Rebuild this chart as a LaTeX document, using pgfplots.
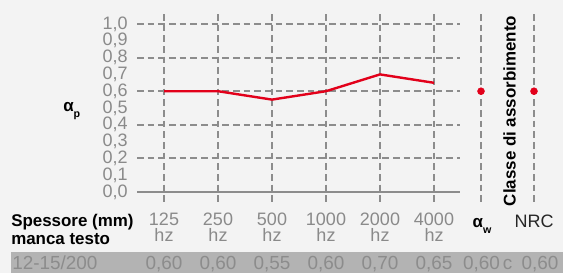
\documentclass[border=0pt]{standalone}
\usepackage{fontspec}
\setmainfont{Liberation Sans}
\usepackage{pgfplots}
\pgfplotsset{compat=1.18}
\definecolor{bg}{HTML}{F3F3F3}
\definecolor{gridc}{HTML}{8C8C8C}
\definecolor{red1}{HTML}{E2001A}
\definecolor{band}{HTML}{B3B3B3}
\definecolor{tlab}{HTML}{8A8A8A}
\definecolor{btext}{HTML}{8C8C8C}
\newcommand{\reg}{\fontsize{13.5}{12}\selectfont}
\newcommand{\bld}{\fontsize{12.7}{12}\selectfont\bfseries}
\newcommand{\bnd}{\fontsize{14.2}{14}\selectfont}
\begin{document}
\begin{tikzpicture}
\fill[bg] (-102.75pt,-60.75pt) rectangle (319.5pt,144pt);
\fill[band] (-94.5pt,-60.75pt) rectangle (319.5pt,-45pt);
\begin{axis}[
  at={(0,0)}, anchor=south west,
  scale only axis, width=243pt, height=126pt,
  xmin=0.5, xmax=6.5, ymin=0, ymax=1,
  clip=false,
  axis line style={draw=none},
  major tick length=0pt,
  xtick={1,2,3,4,5,6},
  xticklabels={{125\\hz},{250\\hz},{500\\hz},{1000\\hz},{2000\\hz},{4000\\hz}},
  xticklabel style={align=center, anchor=north, inner sep=0pt, yshift=-15.75pt, font=\reg, text=tlab},
  ytick={0,0.1,0.2,0.3,0.4,0.5,0.6,0.7,0.8,0.9,1.0},
  yticklabels={{0,0},{0,1},{0,2},{0,3},{0,4},{0,5},{0,6},{0,7},{0,8},{0,9},{1,0}},
  yticklabel style={anchor=east, inner sep=0pt, xshift=-6.75pt, font=\reg, text=tlab},
]
% horizontal dashed grid
\draw[gridc, line width=1.4pt, dash pattern=on 5pt off 3pt] (axis cs:0.5,0.2) -- (axis cs:6.4815,0.2);
\draw[gridc, line width=1.4pt, dash pattern=on 5pt off 3pt] (axis cs:0.5,0.4) -- (axis cs:6.4815,0.4);
\draw[gridc, line width=1.4pt, dash pattern=on 5pt off 3pt] (axis cs:0.5,0.6) -- (axis cs:6.4815,0.6);
\draw[gridc, line width=1.4pt, dash pattern=on 5pt off 3pt] (axis cs:0.5,0.8) -- (axis cs:6.4815,0.8);
\draw[gridc, line width=1.4pt, dash pattern=on 5pt off 3pt] (axis cs:0.5,1.0) -- (axis cs:6.4815,1.0);
\draw[gridc, line width=1.5pt] (axis cs:0.5,0) -- (axis cs:6.4815,0);
% vertical dashed grid
\draw[gridc, line width=1.4pt, dash pattern=on 5pt off 3pt] (axis cs:1,1.0595) -- (axis cs:1,-0.0774);
\draw[gridc, line width=1.4pt, dash pattern=on 5pt off 3pt] (axis cs:2,1.0595) -- (axis cs:2,-0.0774);
\draw[gridc, line width=1.4pt, dash pattern=on 5pt off 3pt] (axis cs:3,1.0595) -- (axis cs:3,-0.0774);
\draw[gridc, line width=1.4pt, dash pattern=on 5pt off 3pt] (axis cs:4,1.0595) -- (axis cs:4,-0.0774);
\draw[gridc, line width=1.4pt, dash pattern=on 5pt off 3pt] (axis cs:5,1.0595) -- (axis cs:5,-0.0774);
\draw[gridc, line width=1.4pt, dash pattern=on 5pt off 3pt] (axis cs:6,1.0595) -- (axis cs:6,-0.0774);
\draw[gridc, line width=1.4pt, dash pattern=on 5pt off 3pt] (axis cs:6.8704,1.0595) -- (axis cs:6.8704,-0.0774);
\draw[gridc, line width=1.4pt, dash pattern=on 5pt off 3pt] (axis cs:7.8519,1.0595) -- (axis cs:7.8519,-0.0774);
% data
\addplot[red1, line width=1.8pt, mark=none] coordinates {(1,0.60)(2,0.60)(3,0.55)(4,0.60)(5,0.70)(6,0.65)};
\addplot[red1, only marks, mark=*, mark size=2.6pt] coordinates {(6.8704,0.60)(7.8519,0.60)};
% band values
\node[anchor=base, inner sep=0pt, font=\bnd, text=btext] at (axis cs:1,-0.4583) {0,60};
\node[anchor=base, inner sep=0pt, font=\bnd, text=btext] at (axis cs:2,-0.4583) {0,60};
\node[anchor=base, inner sep=0pt, font=\bnd, text=btext] at (axis cs:3,-0.4583) {0,55};
\node[anchor=base, inner sep=0pt, font=\bnd, text=btext] at (axis cs:4,-0.4583) {0,60};
\node[anchor=base, inner sep=0pt, font=\bnd, text=btext] at (axis cs:5,-0.4583) {0,70};
\node[anchor=base, inner sep=0pt, font=\bnd, text=btext] at (axis cs:6,-0.4583) {0,65};
\end{axis}
% labels
\node[anchor=west, inner sep=0pt, font=\bld] at (-55.5pt,60.75pt) {α\raisebox{-0.7ex}{\fontsize{8}{8}\selectfont p}};
\node[anchor=base west, inner sep=0pt, font=\bld] at (-94.5pt,-25.5pt) {Spessore (mm)};
\node[anchor=base west, inner sep=0pt, font=\bld] at (-94.5pt,-39pt) {manca testo};
\node[anchor=base, inner sep=0pt, font=\bld] at (258.75pt,-26.25pt) {α\raisebox{-0.7ex}{\fontsize{8}{8}\selectfont w}};
\node[anchor=base, inner sep=0pt, font=\reg, text=black!85] at (297.75pt,-26.25pt) {NRC};
\node[rotate=90, inner sep=0pt, font=\bld] at (279.4pt,60.75pt) {Classe di assorbimento};
% band text
\node[anchor=base west, inner sep=0pt, font=\bnd, text=btext] at (-93.75pt,-57.75pt) {12-15/200};
\node[anchor=base, inner sep=0pt, font=\bnd, text=btext] at (258.4pt,-57.75pt) {0,60};
\node[anchor=base, inner sep=0pt, font=\bnd, text=btext] at (277.9pt,-57.75pt) {c};
\node[anchor=base, inner sep=0pt, font=\bnd, text=btext] at (302.25pt,-57.75pt) {0,60};
\end{tikzpicture}
\end{document}
